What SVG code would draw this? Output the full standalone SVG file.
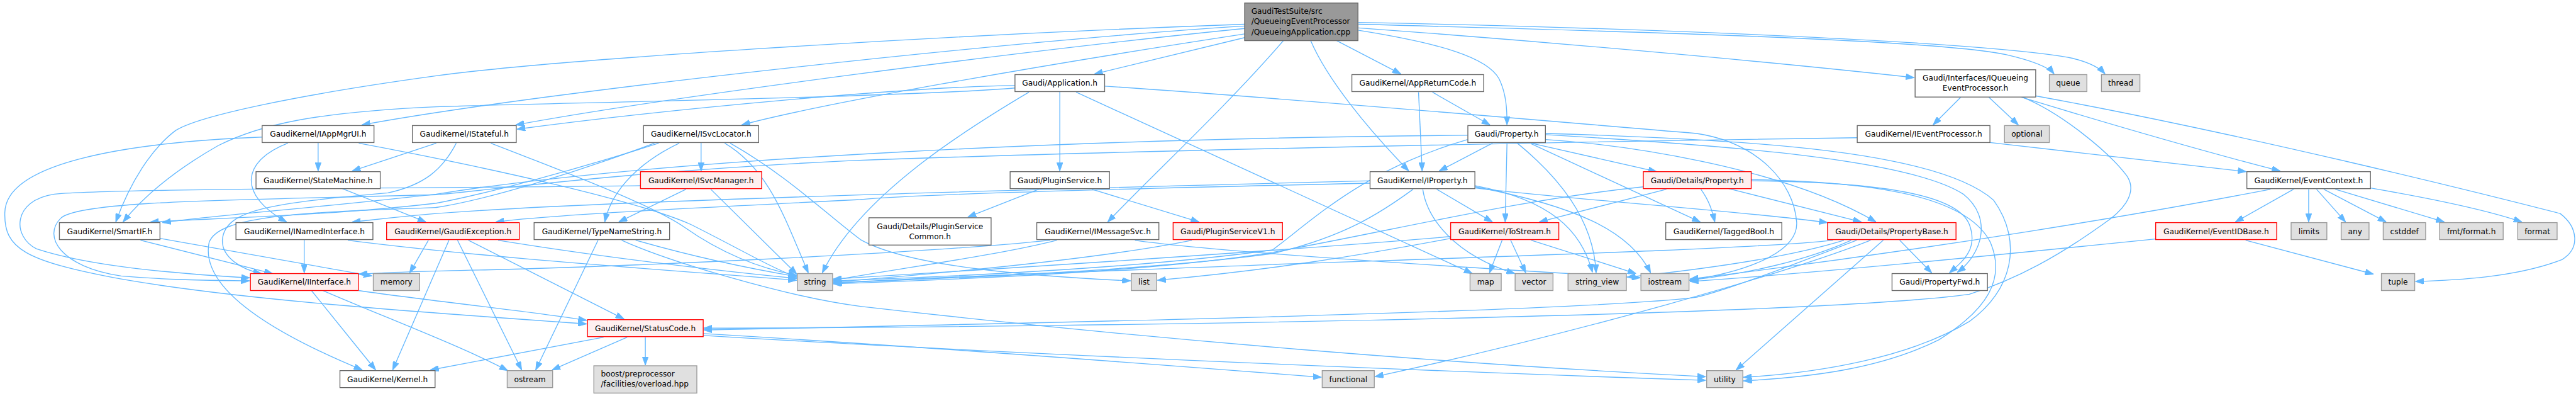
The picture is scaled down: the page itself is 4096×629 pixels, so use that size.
<svg xmlns="http://www.w3.org/2000/svg" width="4096" height="629" viewBox="0 0 4096 629">
<style>
.n rect{fill:#ffffff;stroke:#666666;stroke-width:1.4}
.r rect{fill:#fff0f0;stroke:#ff0000;stroke-width:1.4}
.g rect{fill:#e0e0e0;stroke:#999999;stroke-width:1.4}
.t rect{fill:#999999;stroke:#666666;stroke-width:1.4}
text{font-family:"DejaVu Sans","Liberation Sans",sans-serif;font-size:12.7px;fill:#000000;text-anchor:middle}
text.l{text-anchor:start}
#edges path{fill:none;stroke:#63b8ff;stroke-width:1.4;marker-end:url(#a)}
</style>
<defs>
<marker id="a" markerUnits="userSpaceOnUse" markerWidth="14" markerHeight="10" refX="14" refY="5" orient="auto">
<path d="M0,0 L14,5 L0,10 z" fill="#63b8ff" stroke="#63b8ff" stroke-width="1"/>
</marker>
</defs>
<rect width="4096" height="629" fill="#ffffff"/>
<g transform="scale(0.9635)">
<g id="edges">
<path d="M2054,62 L1806,122"/>
<path d="M2206,67 L2312,122"/>
<path d="M2242,50 C2380,72 2455,95 2474,130 C2486,155 2487,180 2487,206"/>
<path d="M2163,67 C2190,130 2255,210 2325,282"/>
<path d="M2118,67 C2020,180 1900,290 1828,366"/>
<path d="M2242,46 C2600,72 2950,105 3159,128"/>
<path d="M2242,40 C2700,52 3200,66 3310,90 C3362,102 3382,112 3390,122"/>
<path d="M2242,37 C2800,48 3300,72 3420,96 C3452,104 3466,113 3474,122"/>
<path d="M2054,40 C1500,60 900,100 720,125 C500,155 330,190 290,215 C250,245 215,300 191,366"/>
<path d="M2054,43 C1700,64 900,150 597,206"/>
<path d="M2054,47 C1700,82 1100,160 851,206"/>
<path d="M2054,56 C1700,110 1350,172 1224,206"/>
<path d="M1749,151 L1749,282"/>
<path d="M1675,141 C1500,143 1100,180 853,213"/>
<path d="M1675,145 C1500,160 900,170 720,176 C520,185 430,205 360,240 C290,280 240,320 203,366"/>
<path d="M1698,152 C1600,210 1420,320 1357,450"/>
<path d="M1776,152 L2430,451"/>
<path d="M1823,142 C2100,160 2500,195 2800,220 C2900,235 2960,300 2965,366 C2968,410 2900,445 2788,462"/>
<path d="M2341,152 L2347,282"/>
<path d="M2364,152 L2459,206"/>
<path d="M525,235 L525,282"/>
<path d="M475,236 C400,265 390,320 473,366"/>
<path d="M432,226 C200,235 10,270 8,350 C6,410 40,430 200,460 C400,495 700,515 968,534"/>
<path d="M592,236 C800,275 1050,330 1140,370 C1220,410 1270,440 1315,457"/>
<path d="M720,236 L581,282"/>
<path d="M753,236 C730,280 700,305 640,318 C450,335 370,345 367,396 C366,425 400,445 432,451"/>
<path d="M810,236 C950,290 1080,340 1130,375 C1180,410 1240,440 1315,454"/>
<path d="M1157,235 L1157,282"/>
<path d="M1121,236 C1060,265 1010,310 998,366"/>
<path d="M1087,236 C950,280 800,320 720,335 C550,355 350,360 248,366"/>
<path d="M1080,236 C950,285 800,330 720,342 C500,350 360,355 345,400 C335,450 380,520 598,610"/>
<path d="M1196,236 C1270,280 1295,360 1334,450"/>
<path d="M1205,236 C1300,290 1360,350 1420,395 C1500,440 1700,455 1866,463"/>
<path d="M1132,312 L1021,366"/>
<path d="M1173,312 L1315,452"/>
<path d="M1057,306 C800,310 200,310 90,320 C20,330 20,390 60,410 C150,440 300,452 412,458"/>
<path d="M565,311 L703,366"/>
<path d="M502,395 L502,450"/>
<path d="M574,396 C800,425 1100,445 1315,462"/>
<path d="M707,396 L676,450"/>
<path d="M741,396 L648,610"/>
<path d="M755,396 L861,610"/>
<path d="M773,396 L1030,526"/>
<path d="M822,396 C1000,425 1200,448 1315,459"/>
<path d="M987,396 L884,610"/>
<path d="M1049,396 C1150,425 1250,445 1315,456"/>
<path d="M1026,396 C1100,430 1300,490 1420,505 C1900,560 2400,600 2815,621"/>
<path d="M232,396 L450,451"/>
<path d="M264,393 L614,455"/>
<path d="M514,479 L620,610"/>
<path d="M533,479 C640,525 760,570 838,611"/>
<path d="M592,479 C700,495 850,510 968,528"/>
<path d="M996,556 L710,610"/>
<path d="M1035,556 L911,610"/>
<path d="M1065,556 L1065,602"/>
<path d="M1161,550 C1500,570 1900,600 2181,622"/>
<path d="M1161,553 C1600,580 2300,610 2815,627"/>
<path d="M1714,312 L1597,358"/>
<path d="M1802,312 L1979,366"/>
<path d="M2487,236 L2484,366"/>
<path d="M2463,236 L2375,282"/>
<path d="M2504,236 C2570,290 2630,360 2634,450"/>
<path d="M2522,235 L2734,283"/>
<path d="M2527,237 L2806,366"/>
<path d="M2551,230 C2700,240 2950,280 3096,366"/>
<path d="M2551,222 C2850,240 3150,262 3240,320 C3290,360 3270,420 3230,449"/>
<path d="M2551,220 C2900,230 3200,250 3290,330 C3340,400 3320,480 3250,530 C3150,590 3000,615 2877,622"/>
<path d="M2422,223 C1800,228 1100,260 720,320 C500,345 350,355 268,367"/>
<path d="M2422,230 C2250,280 2170,360 2100,412 C1900,440 1600,455 1375,463"/>
<path d="M2371,312 L2463,366"/>
<path d="M2348,312 C2355,360 2400,420 2500,451"/>
<path d="M2434,306 C2560,330 2610,380 2628,449"/>
<path d="M2435,308 C2600,340 2690,380 2724,450"/>
<path d="M2435,310 C2600,330 2850,345 3016,367"/>
<path d="M2332,312 C2280,350 2220,390 2100,418 C1900,445 1600,458 1375,466"/>
<path d="M2261,298 C1800,310 1000,330 720,352 C650,358 620,362 581,366"/>
<path d="M2261,302 C1900,310 1500,320 1420,329 C1100,345 900,355 818,366"/>
<path d="M1744,396 C1650,420 1500,440 1375,462"/>
<path d="M1873,396 C2000,415 2400,440 2707,458"/>
<path d="M1733,396 C1500,420 1000,440 800,445 C700,447 640,449 592,452"/>
<path d="M1967,396 C1800,430 1500,455 1375,465"/>
<path d="M2394,393 C2250,420 2100,445 1910,462"/>
<path d="M2394,390 C2100,415 1700,440 1375,460"/>
<path d="M2479,396 L2458,450"/>
<path d="M2493,396 L2518,450"/>
<path d="M2527,396 L2700,451"/>
<path d="M2750,312 L2540,366"/>
<path d="M2807,312 C2820,330 2825,345 2830,366"/>
<path d="M2853,311 L3072,366"/>
<path d="M2890,298 C3100,300 3230,320 3250,370 C3265,410 3240,430 3217,450"/>
<path d="M2890,296 C3120,300 3250,330 3285,400 C3310,460 3280,510 3200,560 C3100,610 2980,622 2877,628"/>
<path d="M2712,308 C2500,330 2300,380 2100,416 C1900,448 1600,460 1375,468"/>
<path d="M3135,396 L3188,450"/>
<path d="M3108,396 L2865,610"/>
<path d="M3087,396 C2950,450 2600,550 2269,621"/>
<path d="M3064,396 C2950,440 2850,478 2800,490 C2600,515 1600,535 1161,544"/>
<path d="M3025,396 C2900,410 2500,422 2100,436 C1800,448 1500,458 1375,467"/>
<path d="M3043,396 C2950,425 2800,445 2685,457"/>
<path d="M3055,396 C2980,430 2880,452 2788,462"/>
<path d="M3236,160 L3190,206"/>
<path d="M3282,160 L3331,206"/>
<path d="M3335,160 C3450,195 3600,240 3763,282"/>
<path d="M3359,158 C3700,220 4100,320 4225,352 C4255,375 4258,410 4228,428 C4150,458 4050,462 3986,464"/>
<path d="M3337,160 C3400,185 3480,250 3510,290 C3530,320 3500,350 3470,370 C3400,420 3330,460 3250,485 C3000,520 1800,540 1161,541"/>
<path d="M3284,235 C3450,255 3600,270 3707,283"/>
<path d="M3065,227 C2500,235 1800,250 1400,265 C1000,285 800,315 720,321 C400,330 130,330 100,360 C70,390 100,440 200,455 C280,462 350,462 412,463"/>
<path d="M3785,312 L3689,366"/>
<path d="M3810,312 L3810,366"/>
<path d="M3823,312 L3871,366"/>
<path d="M3835,312 L3938,366"/>
<path d="M3854,312 L4034,366"/>
<path d="M3912,310 C4000,325 4100,345 4162,366"/>
<path d="M3747,312 C3550,350 3200,410 2789,460"/>
<path d="M3706,396 L3917,452"/>
<path d="M3557,394 C3300,420 3000,450 2789,464"/>
</g>
<g id="n_top" class="t"><rect x="2054" y="5" width="187" height="62"/><text class="l" x="2065" y="22.8">GaudiTestSuite/src</text><text class="l" x="2065" y="39.9">/QueueingEventProcessor</text><text class="l" x="2065" y="57">/QueueingApplication.cpp</text></g>
<g id="n_app" class="n"><rect x="1675" y="123" width="148" height="28"/><text x="1749" y="141.6">Gaudi/Application.h</text></g>
<g id="n_arc" class="n"><rect x="2231" y="123" width="217.5" height="28"/><text x="2339.7" y="141.6">GaudiKernel/AppReturnCode.h</text></g>
<g id="n_iqep" class="n"><rect x="3160.5" y="115" width="199" height="45"/><text x="3260" y="132.8">Gaudi/Interfaces/IQueueing</text><text x="3260" y="149.9">EventProcessor.h</text></g>
<g id="n_queue" class="g"><rect x="3382" y="123" width="62" height="28"/><text x="3413" y="141.6">queue</text></g>
<g id="n_thread" class="g"><rect x="3468" y="123" width="63.5" height="28"/><text x="3499.7" y="141.6">thread</text></g>
<g id="n_iappmgrui" class="n"><rect x="432.6" y="207" width="184.6" height="28"/><text x="525" y="225.6">GaudiKernel/IAppMgrUI.h</text></g>
<g id="n_istateful" class="n"><rect x="680.5" y="207" width="171.5" height="28"/><text x="766.2" y="225.6">GaudiKernel/IStateful.h</text></g>
<g id="n_isvclocator" class="n"><rect x="1062" y="207" width="190" height="28"/><text x="1157" y="225.6">GaudiKernel/ISvcLocator.h</text></g>
<g id="n_property" class="n"><rect x="2422.4" y="207" width="128" height="28"/><text x="2486.4" y="225.6">Gaudi/Property.h</text></g>
<g id="n_ieventproc" class="n"><rect x="3065" y="207" width="219" height="28"/><text x="3174.5" y="225.6">GaudiKernel/IEventProcessor.h</text></g>
<g id="n_optional" class="g"><rect x="3308" y="207" width="74" height="28"/><text x="3345" y="225.6">optional</text></g>
<g id="n_statemachine" class="n"><rect x="422.5" y="283" width="205" height="28"/><text x="525" y="301.6">GaudiKernel/StateMachine.h</text></g>
<g id="n_isvcmanager" class="r"><rect x="1057" y="283" width="200" height="28"/><text x="1157" y="301.6">GaudiKernel/ISvcManager.h</text></g>
<g id="n_pluginservice" class="n"><rect x="1667" y="283" width="164" height="28"/><text x="1749" y="301.6">Gaudi/PluginService.h</text></g>
<g id="n_iproperty" class="n"><rect x="2261" y="283" width="173" height="28"/><text x="2347.5" y="301.6">GaudiKernel/IProperty.h</text></g>
<g id="n_detproperty" class="r"><rect x="2712" y="283" width="178" height="28"/><text x="2801" y="301.6">Gaudi/Details/Property.h</text></g>
<g id="n_eventcontext" class="n"><rect x="3708" y="283" width="204" height="28"/><text x="3810" y="301.6">GaudiKernel/EventContext.h</text></g>
<g id="n_smartif" class="n"><rect x="98" y="367" width="166" height="28"/><text x="181" y="385.6">GaudiKernel/SmartIF.h</text></g>
<g id="n_inamed" class="n"><rect x="389.4" y="367" width="226" height="28"/><text x="502.4" y="385.6">GaudiKernel/INamedInterface.h</text></g>
<g id="n_gaudiexc" class="r"><rect x="638" y="367" width="219" height="28"/><text x="747.5" y="385.6">GaudiKernel/GaudiException.h</text></g>
<g id="n_typename" class="n"><rect x="881.4" y="367" width="223.6" height="28"/><text x="993.2" y="385.6">GaudiKernel/TypeNameString.h</text></g>
<g id="n_pscommon" class="n"><rect x="1434" y="359" width="201.6" height="45"/><text x="1534.8" y="377.3">Gaudi/Details/PluginService</text><text x="1534.8" y="393.9">Common.h</text></g>
<g id="n_imessagesvc" class="n"><rect x="1711" y="367" width="201.5" height="28"/><text x="1811.7" y="385.6">GaudiKernel/IMessageSvc.h</text></g>
<g id="n_psv1" class="r"><rect x="1936" y="367" width="180.5" height="28"/><text x="2026.2" y="385.6">Gaudi/PluginServiceV1.h</text></g>
<g id="n_tostream" class="r"><rect x="2394" y="367" width="178.5" height="28"/><text x="2483.2" y="385.6">GaudiKernel/ToStream.h</text></g>
<g id="n_taggedbool" class="n"><rect x="2749" y="367" width="191.5" height="28"/><text x="2844.7" y="385.6">GaudiKernel/TaggedBool.h</text></g>
<g id="n_propertybase" class="r"><rect x="3016" y="367" width="212" height="28"/><text x="3122" y="385.6">Gaudi/Details/PropertyBase.h</text></g>
<g id="n_eventidbase" class="r"><rect x="3557.5" y="367" width="199.7" height="28"/><text x="3657.3" y="385.6">GaudiKernel/EventIDBase.h</text></g>
<g id="n_limits" class="g"><rect x="3781" y="367" width="59" height="28"/><text x="3810.5" y="385.6">limits</text></g>
<g id="n_any" class="g"><rect x="3863.6" y="367" width="46" height="28"/><text x="3886.6" y="385.6">any</text></g>
<g id="n_cstddef" class="g"><rect x="3933" y="367" width="70" height="28"/><text x="3968" y="385.6">cstddef</text></g>
<g id="n_fmtformat" class="g"><rect x="4026" y="367" width="105" height="28"/><text x="4078.5" y="385.6">fmt/format.h</text></g>
<g id="n_format" class="g"><rect x="4155" y="367" width="65" height="28"/><text x="4187.5" y="385.6">format</text></g>
<g id="n_iinterface" class="r"><rect x="413.3" y="451" width="178" height="28"/><text x="502.3" y="469.6">GaudiKernel/IInterface.h</text></g>
<g id="n_memory" class="g"><rect x="616" y="451" width="76.5" height="28"/><text x="654.2" y="469.6">memory</text></g>
<g id="n_string" class="g"><rect x="1316" y="451" width="58" height="28"/><text x="1345" y="469.6">string</text></g>
<g id="n_list" class="g"><rect x="1867" y="451" width="42" height="28"/><text x="1888" y="469.6">list</text></g>
<g id="n_map" class="g"><rect x="2426" y="451" width="51.5" height="28"/><text x="2451.7" y="469.6">map</text></g>
<g id="n_vector" class="g"><rect x="2500.4" y="451" width="62.5" height="28"/><text x="2531.6" y="469.6">vector</text></g>
<g id="n_stringview" class="g"><rect x="2587.7" y="451" width="96.3" height="28"/><text x="2635.8" y="469.6">string_view</text></g>
<g id="n_iostream" class="g"><rect x="2708" y="451" width="79.4" height="28"/><text x="2747.7" y="469.6">iostream</text></g>
<g id="n_propertyfwd" class="n"><rect x="3122.4" y="451" width="157.5" height="28"/><text x="3201.1" y="469.6">Gaudi/PropertyFwd.h</text></g>
<g id="n_tuple" class="g"><rect x="3930" y="451" width="55" height="28"/><text x="3957.5" y="469.6">tuple</text></g>
<g id="n_statuscode" class="r"><rect x="969.5" y="527" width="191" height="28"/><text x="1065" y="545.6">GaudiKernel/StatusCode.h</text></g>
<g id="n_kernel" class="n"><rect x="561" y="611" width="157" height="28"/><text x="639.5" y="629.6">GaudiKernel/Kernel.h</text></g>
<g id="n_ostream" class="g"><rect x="837" y="611" width="75" height="28"/><text x="874.5" y="629.6">ostream</text></g>
<g id="n_boost" class="g"><rect x="980" y="603" width="170" height="45"/><text class="l" x="991.6" y="620.9">boost/preprocessor</text><text class="l" x="991.6" y="637.5">/facilities/overload.hpp</text></g>
<g id="n_functional" class="g"><rect x="2182" y="611" width="86" height="28"/><text x="2225" y="629.6">functional</text></g>
<g id="n_utility" class="g"><rect x="2816.5" y="611" width="59.7" height="28"/><text x="2846.3" y="629.6">utility</text></g>
</g>
</svg>
